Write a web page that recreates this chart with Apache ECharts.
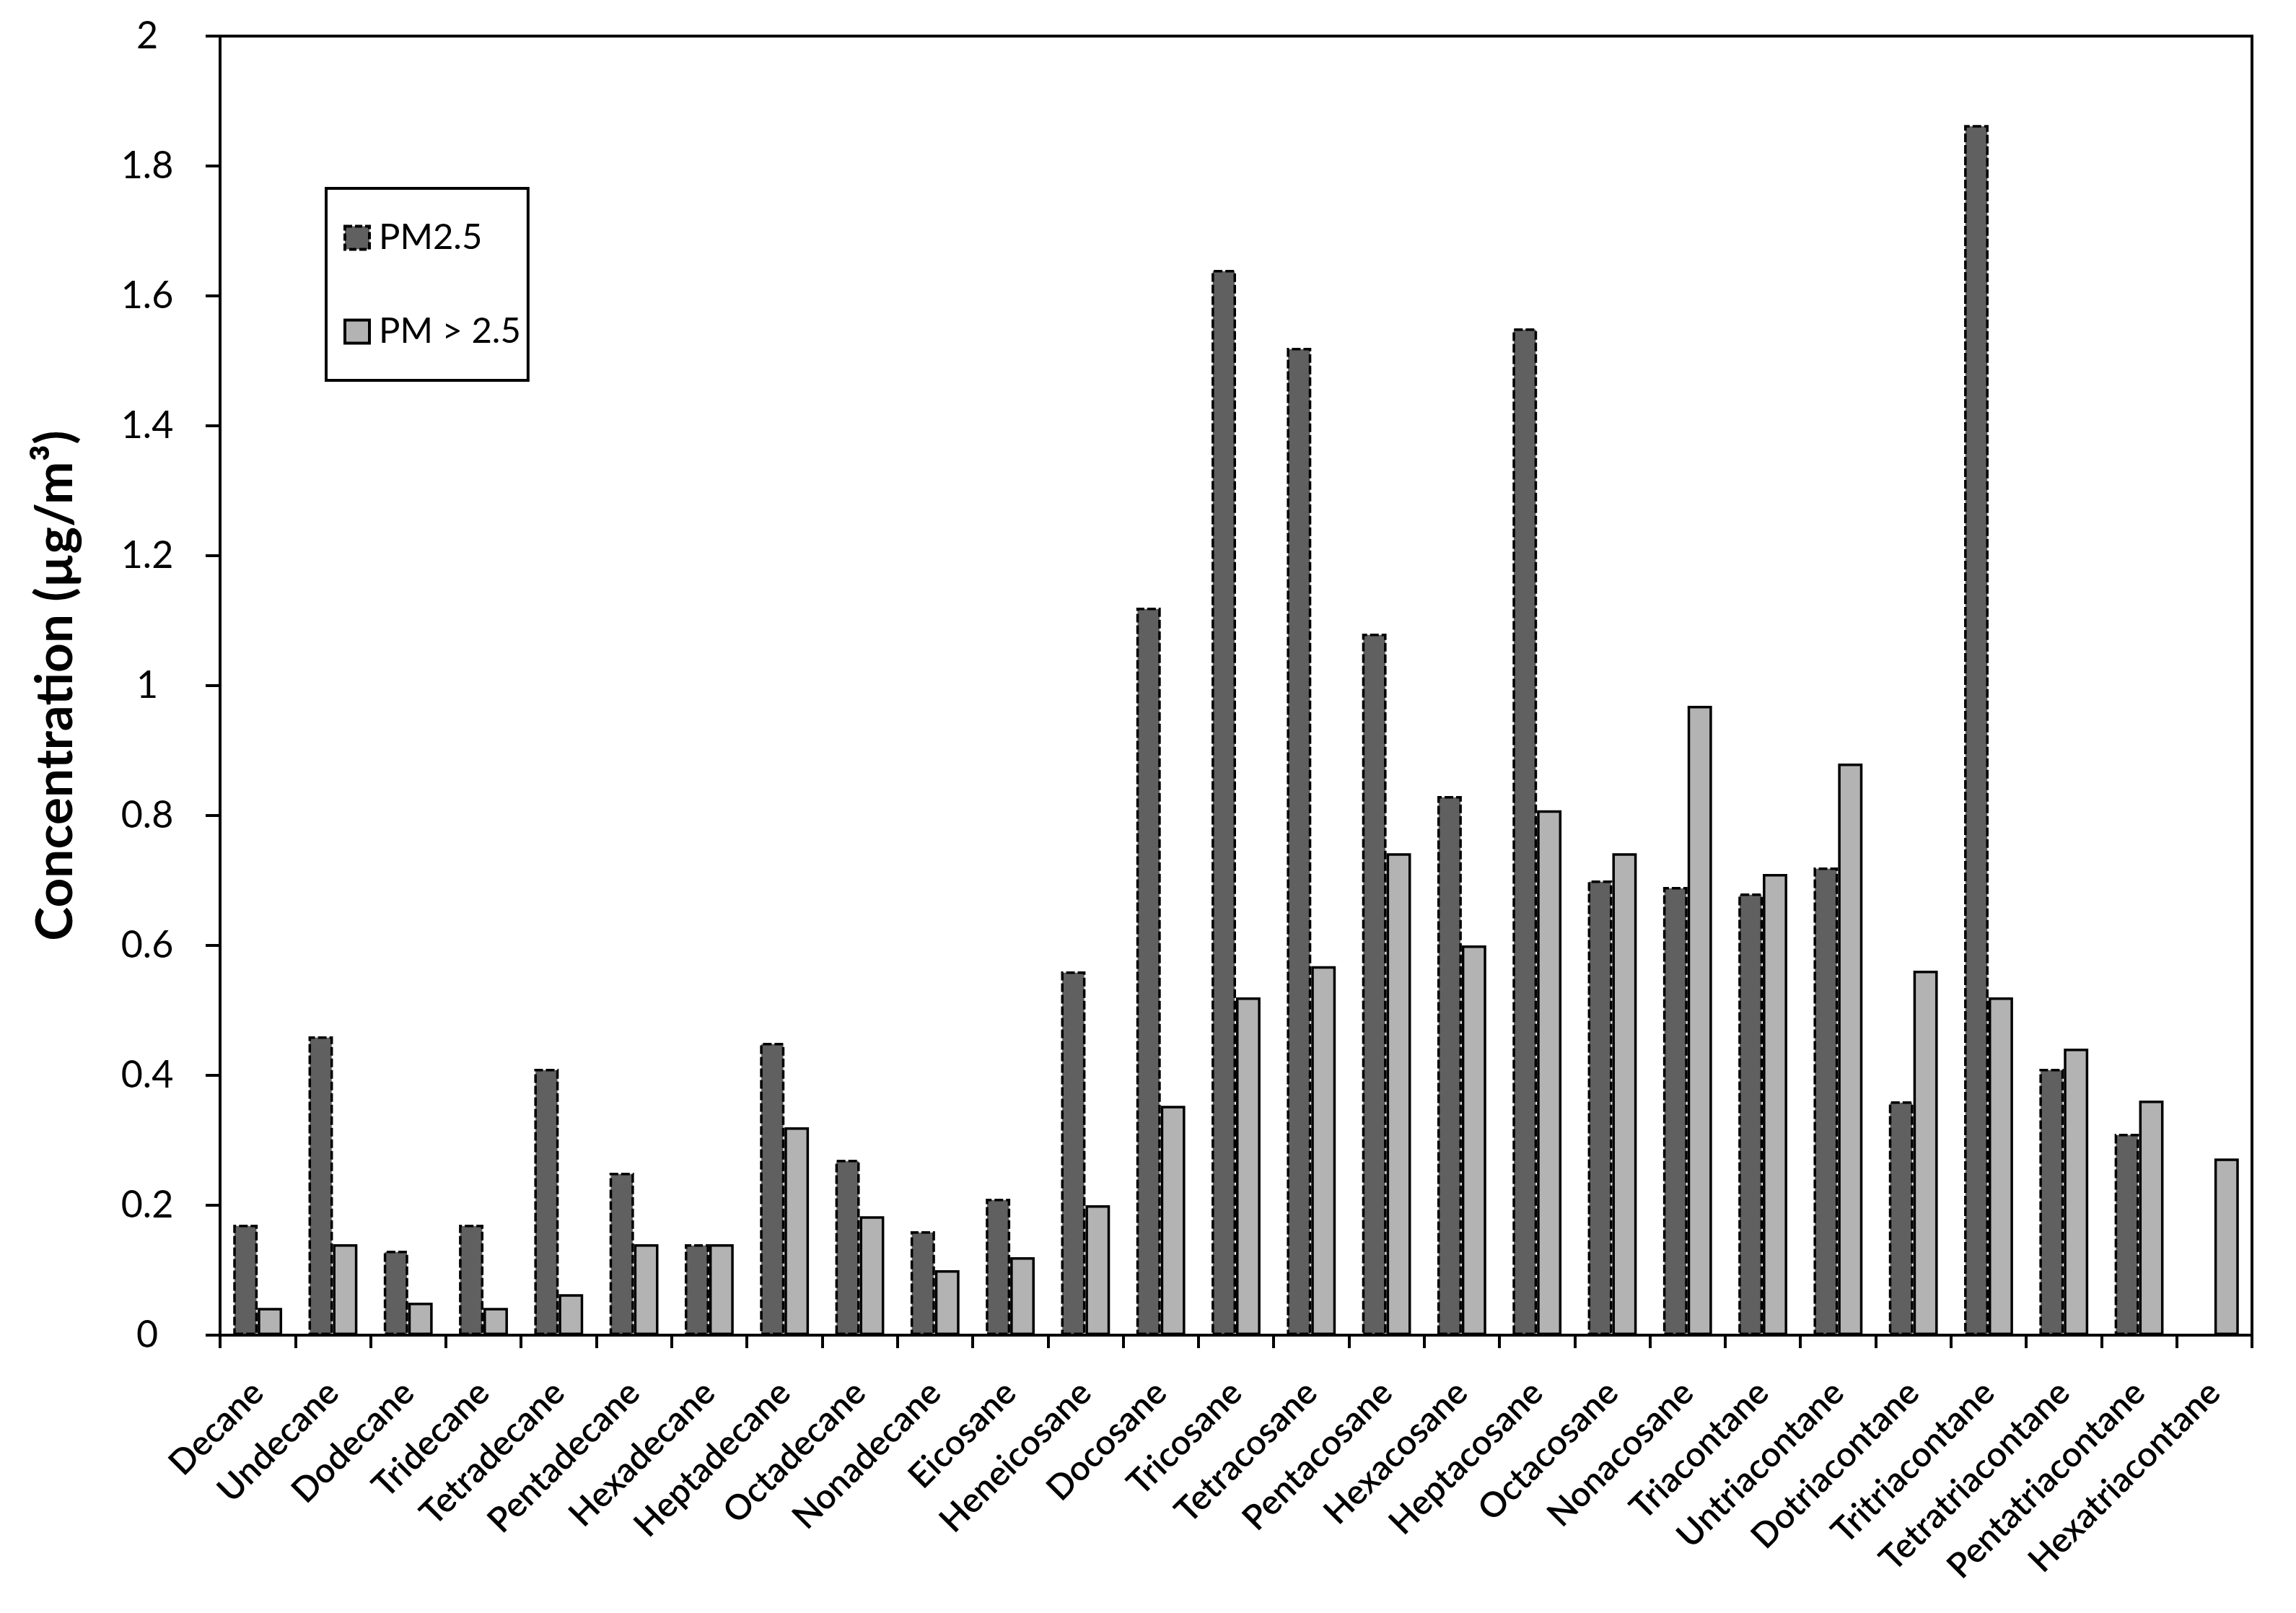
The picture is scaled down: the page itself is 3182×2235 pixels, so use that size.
<!DOCTYPE html>
<html>
<head>
<meta charset="utf-8">
<script src="https://cdn.jsdelivr.net/npm/echarts@6/dist/echarts.min.js"></script>
<style>
html,body{margin:0;padding:0;background:#fff;}
#chart{width:3182px;height:2235px;}
</style>
</head>
<body>
<div id="chart"></div>
<script>
const categories = ['Decane','Undecane','Dodecane','Tridecane','Tetradecane','Pentadecane','Hexadecane','Heptadecane','Octadecane','Nonadecane','Eicosane','Heneicosane','Docosane','Tricosane','Tetracosane','Pentacosane','Hexacosane','Heptacosane','Octacosane','Nonacosane','Triacontane','Untriacontane','Dotriacontane','Tritriacontane','Tetratriacontane','Pentatriacontane','Hexatriacontane'];
const pm25 = [0.17,0.46,0.13,0.17,0.41,0.25,0.14,0.45,0.27,0.16,0.21,0.56,1.12,1.64,1.52,1.08,0.83,1.55,0.70,0.69,0.68,0.72,0.36,1.863,0.41,0.31,null];
const pmCoarse = [0.042,0.14,0.05,0.042,0.063,0.14,0.14,0.32,0.183,0.10,0.12,0.20,0.353,0.52,0.568,0.742,0.60,0.808,0.742,0.969,0.71,0.88,0.561,0.52,0.441,0.361,0.272];
const yTicks = {min:0, max:2, interval:0.2};
const seriesNames = ['PM2.5','PM > 2.5'];

const FONT = 'Lato';
const chart = echarts.init(document.getElementById('chart'), null, {renderer:'canvas'});
chart.setOption({
  backgroundColor:'#fff',
  animation:false,
  textStyle:{fontFamily:FONT, color:'#000'},
  grid:{left:305, right:61, top:50, bottom:385, show:true, borderColor:'#000', borderWidth:4, backgroundColor:'transparent'},
  legend:{
    orient:'vertical', left:452, top:261,
    borderColor:'#000', borderWidth:4, padding:[44,10,43,24],
    itemWidth:34, itemHeight:32, itemGap:81,
    textStyle:{fontFamily:FONT, fontSize:49, color:'#000', padding:[0,0,0,8]},
    data:[
      {name:seriesNames[0], icon:'rect', itemStyle:{color:'#606060', borderColor:'#000', borderWidth:4, borderType:[10,4]}},
      {name:seriesNames[1], icon:'rect', itemStyle:{color:'#b3b3b3', borderColor:'#000', borderWidth:4}}
    ]
  },
  xAxis:{
    type:'category', data:categories,
    axisLine:{show:true, lineStyle:{color:'#000', width:4}},
    axisTick:{show:true, length:18, lineStyle:{color:'#000', width:4}},
    axisLabel:{interval:0, rotate:45, margin:72, fontFamily:FONT, fontSize:48, fontWeight:600, color:'#000'},
    splitLine:{show:false}
  },
  yAxis:{
    type:'value', min:yTicks.min, max:yTicks.max, interval:yTicks.interval,
    name:'Concentration (µg/m³)', nameLocation:'middle', nameGap:192,
    nameTextStyle:{fontFamily:FONT, fontSize:71, fontWeight:'bold', color:'#000'},
    axisLine:{show:true, lineStyle:{color:'#000', width:4}},
    axisTick:{show:true, length:20, lineStyle:{color:'#000', width:4}},
    axisLabel:{fontFamily:FONT, fontSize:52, color:'#000', align:'center', margin:101},
    splitLine:{show:false}
  },
  series:[
    {name:seriesNames[0], type:'bar', data:pm25, barGap:'0%', barCategoryGap:'35%',
     itemStyle:{color:'#606060', borderColor:'#000', borderWidth:3.5, borderType:[12,4]}},
    {name:seriesNames[1], type:'bar', data:pmCoarse, barGap:'0%', barCategoryGap:'35%',
     itemStyle:{color:'#b3b3b3', borderColor:'#000', borderWidth:3.5}}
  ]
});
</script>
</body>
</html>
